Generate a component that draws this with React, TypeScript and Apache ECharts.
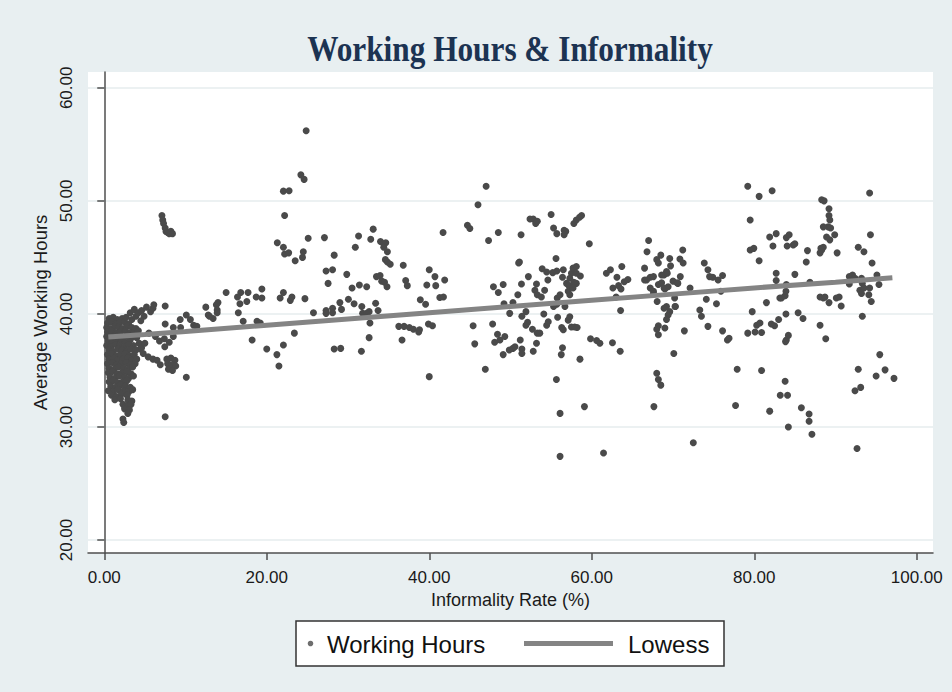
import { useEffect, useRef } from "react";
import * as echarts from "echarts";

// ---------- axis ticks ----------
const xTickValues = [0, 20, 40, 60, 80, 100];
const yTickValues = [20, 30, 40, 50, 60];

// ---------- scatter data: [informality rate %, average working hours] ----------
const lowInformalityBlob: [number, number][] = [
  [0.6, 39.6], [1.1, 39.7], [1.6, 39.5], [2.2, 39.6],
  [0.4, 39.2], [0.9, 39.3], [1.4, 39.1], [1.9, 39.2], [2.5, 39.3], [3.0, 39.1],
  [0.3, 38.8], [0.8, 38.7], [1.3, 38.9], [1.8, 38.8], [2.3, 38.7], [2.8, 38.9], [3.4, 38.8], [3.9, 38.7],
  [0.4, 38.4], [0.9, 38.5], [1.5, 38.3], [2.0, 38.4], [2.6, 38.5], [3.1, 38.3], [3.7, 38.4], [4.2, 38.5],
  [0.3, 38.0], [0.8, 37.9], [1.3, 38.1], [1.9, 38.0], [2.4, 37.9], [2.9, 38.1], [3.5, 38.0], [4.0, 37.9],
  [0.5, 37.6], [1.0, 37.5], [1.5, 37.7], [2.1, 37.6], [2.6, 37.5], [3.2, 37.7], [4.3, 37.4],
  [0.3, 37.2], [0.8, 37.1], [1.4, 37.3], [1.9, 37.2], [2.5, 37.1], [3.0, 37.3], [3.6, 37.2], [4.4, 36.9],
  [0.6, 36.8], [1.1, 36.7], [1.7, 36.9], [2.2, 36.8], [2.8, 36.7], [3.3, 36.9], [3.9, 36.8],
  [0.4, 36.4], [0.9, 36.5], [1.5, 36.3], [2.0, 36.4], [2.6, 36.5], [3.1, 36.3], [3.7, 36.4],
  [0.6, 36.0], [1.2, 36.1], [1.7, 35.9], [2.3, 36.0], [2.9, 36.1], [3.4, 35.9], [4.0, 36.0],
  [0.4, 35.6], [1.0, 35.7], [1.5, 35.5], [2.1, 35.6], [2.7, 35.7], [3.2, 35.5], [3.8, 35.6],
  [0.6, 35.2], [1.2, 35.1], [1.8, 35.3], [2.4, 35.2], [2.9, 35.1], [3.5, 35.3],
  [0.5, 34.8], [1.0, 34.9], [1.6, 34.7], [2.2, 34.8], [2.8, 34.9], [3.3, 34.7],
  [0.7, 34.4], [1.3, 34.3], [1.9, 34.5], [2.5, 34.4], [3.0, 34.3], [3.6, 34.5],
  [0.6, 34.0], [1.1, 34.1], [1.7, 33.9], [2.3, 34.0], [2.8, 34.1],
  [0.8, 33.6], [1.4, 33.5], [2.0, 33.7], [2.6, 33.6], [3.2, 33.5],
  [0.5, 33.2], [1.1, 33.1], [1.7, 33.3], [2.4, 33.2], [3.0, 33.1], [3.5, 33.3],
  [0.9, 32.8], [1.5, 32.7], [2.1, 32.9], [2.8, 32.8],
  [1.3, 32.4], [2.0, 32.5], [2.9, 32.4], [3.4, 32.3],
  [2.3, 32.0], [2.8, 31.9], [3.3, 32.0],
  [2.5, 31.6], [3.1, 31.5], [2.9, 31.2], [2.3, 30.7], [2.4, 30.4],
];

const lowInformalityEdge: [number, number][] = [
  [2.7, 39.7], [3.4, 39.5], [3.9, 39.8], [3.2, 40.1], [3.7, 40.4], [4.2, 40.1], [4.6, 40.3],
  [4.9, 39.8], [5.2, 40.6], [5.7, 40.2], [6.0, 40.5], [6.1, 40.8], [4.5, 39.4],
  [4.6, 37.0], [5.0, 37.4], [4.8, 36.5], [5.4, 36.2], [6.0, 36.0], [6.5, 35.9], [6.9, 35.5],
  [5.5, 38.3], [6.3, 38.0], [6.8, 37.6], [7.4, 37.8], [8.0, 37.5], [8.5, 38.0], [7.45, 37.1],
  [7.5, 39.1], [8.5, 38.8], [9.4, 38.8], [7.5, 40.7], [7.5, 30.9], [10.1, 34.4],
  [7.7, 36.0], [8.2, 36.1], [8.7, 35.9], [7.8, 35.6], [8.3, 35.5], [8.8, 35.4], [7.9, 35.1], [8.4, 35.0],
  [7.1, 48.7], [7.2, 48.3], [7.3, 48.0], [7.5, 47.6], [7.6, 47.3], [7.8, 47.2], [8.0, 47.1], [8.2, 47.3], [8.4, 47.1],
];

const midLowInformality: [number, number][] = [
  [10.1, 39.9], [10.6, 39.5], [11.0, 39.0], [11.4, 38.9], [9.35, 39.5], [12.5, 40.6], [12.8, 39.9],
  [13.4, 39.6], [13.8, 40.8], [14.0, 41.0], [13.9, 40.35], [13.9, 40.1], [12.95, 39.8],
  [15.0, 41.9], [16.8, 41.9], [17.7, 41.9], [19.4, 42.2], [18.7, 41.5], [16.4, 41.5], [16.7, 40.9],
  [17.55, 41.1], [19.4, 41.4], [16.5, 40.1], [17.1, 39.35], [18.8, 39.35], [19.2, 39.2], [18.2, 37.7],
  [20.0, 36.9], [21.25, 36.4], [21.5, 35.4], [22.05, 37.25], [23.4, 38.3],
  [21.65, 41.4], [22.05, 41.9], [23.1, 41.5], [22.9, 41.2], [24.7, 41.35], [25.75, 40.1],
  [21.3, 46.3], [22.05, 45.9], [22.2, 45.3], [22.7, 45.4], [23.5, 44.7], [24.5, 45.5], [24.4, 45.0],
  [22.2, 48.7], [22.05, 50.86], [22.75, 50.9], [24.2, 52.3], [24.6, 51.9], [24.85, 56.2], [25.1, 46.7],
  [27.1, 46.75], [28.3, 45.2], [27.3, 43.8], [28.1, 43.9], [27.55, 42.7], [29.85, 43.5], [30.9, 45.9],
  [31.3, 46.9], [32.8, 46.6], [33.1, 47.5], [34.0, 46.4], [34.4, 46.2], [34.65, 46.3], [34.4, 45.9],
  [34.85, 45.5], [34.6, 44.8], [34.85, 44.6], [35.2, 44.4], [33.5, 43.3], [33.95, 43.4], [34.15, 42.9],
  [34.5, 42.8], [34.8, 42.4], [36.8, 44.3], [37.1, 42.95], [37.3, 42.5], [30.5, 42.3], [31.4, 42.55], [32.3, 42.4],
  [27.3, 40.3], [27.3, 40.05], [28.1, 40.5], [28.1, 40.1], [29.2, 40.4], [29.0, 41.0], [30.05, 41.3],
  [30.75, 40.9], [31.7, 40.65], [31.8, 40.05], [32.3, 40.05], [32.6, 40.2], [33.4, 40.95], [33.7, 40.3],
  [32.7, 39.2], [36.25, 38.9], [36.9, 38.9], [37.55, 38.8], [38.05, 38.65], [38.7, 38.4], [38.8, 38.6],
  [28.3, 36.9], [29.1, 36.95], [31.65, 36.7], [32.6, 37.9], [36.65, 37.7],
];

const midHighInformality: [number, number][] = [
  [40.0, 43.9], [40.7, 43.3], [39.7, 42.55], [40.8, 42.5], [41.9, 43.0], [41.7, 47.2], [44.7, 47.85],
  [45.0, 47.55], [46.0, 49.65], [47.0, 51.3], [47.3, 46.5], [48.5, 47.2], [51.3, 47.0],
  [41.3, 41.45], [41.75, 41.5], [38.9, 41.25], [39.55, 40.85], [39.9, 39.1], [40.4, 38.95], [40.0, 34.45],
  [45.4, 38.95], [45.6, 37.35], [46.9, 35.1],
  [47.9, 42.4], [49.1, 42.6], [48.5, 41.9], [47.8, 39.1], [48.4, 38.2], [48.05, 37.5], [48.7, 37.7],
  [49.3, 38.0], [49.1, 36.4], [49.2, 40.9], [49.9, 40.05], [50.3, 41.0],
  [49.85, 36.8], [50.3, 36.95], [50.55, 37.1], [51.2, 37.7], [51.4, 36.9], [51.4, 36.5], [50.9, 41.7],
  [51.35, 42.65], [51.0, 44.5], [51.1, 44.6],
  [52.2, 43.3], [51.9, 40.2], [51.4, 39.8], [52.1, 39.25], [51.9, 39.0], [52.8, 36.7], [52.7, 38.65],
  [53.3, 38.3], [53.6, 38.3], [53.2, 37.4],
  [53.2, 42.65], [53.0, 42.1], [53.3, 41.7], [53.9, 44.0], [54.2, 42.1], [54.1, 40.0], [54.45, 39.0], [54.65, 39.3],
  [53.8, 41.5], [54.45, 43.7], [54.6, 43.0], [55.2, 43.65], [55.6, 44.9], [55.7, 43.8], [55.75, 41.4],
  [56.1, 41.7], [56.4, 43.25], [56.5, 43.9],
  [55.7, 40.85], [55.3, 40.65], [55.8, 39.7], [56.3, 38.8], [56.5, 38.6], [57.1, 39.45], [57.3, 39.75],
  [57.5, 38.85], [57.9, 38.85], [58.2, 38.8], [56.4, 37.0], [56.25, 36.4], [55.65, 34.2], [56.1, 31.2], [56.1, 27.4],
  [56.9, 42.7], [57.3, 43.15], [57.5, 43.6], [57.7, 44.05], [58.1, 44.2], [58.6, 43.35], [58.1, 42.7],
  [57.2, 42.5], [57.8, 42.8], [57.1, 42.0], [57.7, 42.3], [57.3, 41.7], [58.1, 43.6], [56.7, 40.65],
  [52.4, 48.4], [52.8, 48.4], [53.1, 48.0], [53.3, 48.2], [55.0, 48.8], [55.3, 47.6], [55.7, 47.1],
  [56.6, 47.4], [56.8, 47.3], [56.6, 47.0], [57.8, 48.0], [58.1, 48.3], [58.5, 48.55], [58.75, 48.7], [59.7, 46.2],
  [58.55, 36.0], [59.1, 31.8], [61.45, 27.7], [59.85, 37.8], [60.6, 37.65], [61.0, 37.4], [62.55, 37.45], [63.5, 36.7],
  [61.8, 43.6], [62.3, 43.9], [63.1, 43.25], [63.7, 44.2], [62.6, 42.3], [63.3, 42.5], [63.6, 42.2],
  [64.0, 42.85], [64.45, 43.05], [63.0, 41.5], [63.55, 40.3],
];

const highInformality: [number, number][] = [
  [67.0, 46.5], [66.8, 45.5], [68.0, 44.8], [68.2, 44.5], [68.5, 45.2], [69.6, 44.9], [66.5, 44.05],
  [67.2, 43.25], [66.75, 43.0], [67.6, 43.3], [68.6, 43.45], [69.2, 43.75],
  [67.2, 42.3], [67.6, 42.0], [68.2, 42.6], [68.6, 42.75], [69.0, 42.2], [69.4, 42.4], [70.0, 42.9],
  [70.5, 42.75], [70.9, 43.3], [68.05, 41.1], [69.2, 40.65], [69.6, 40.2], [69.4, 39.9], [70.25, 40.65],
  [69.2, 39.5], [69.0, 38.75], [68.2, 38.95], [68.0, 38.65], [68.2, 38.15], [70.1, 36.5], [68.0, 34.75],
  [68.2, 34.2], [68.5, 33.7], [67.65, 31.8],
  [66.5, 43.0], [68.9, 43.45], [69.3, 43.6], [69.7, 44.25], [70.85, 44.85], [71.2, 45.65], [71.25, 44.5],
  [70.6, 42.7], [70.2, 41.4], [70.3, 40.65], [68.9, 40.5], [68.9, 42.3], [67.6, 41.8], [71.4, 38.5],
  [72.1, 42.3], [72.5, 28.6],
  [73.85, 44.5], [74.3, 43.9], [74.5, 43.3], [74.9, 43.25], [75.55, 43.0], [76.1, 43.4], [74.1, 41.3],
  [73.3, 40.35], [73.5, 39.8], [74.3, 38.9], [75.35, 40.9], [76.1, 38.5], [76.7, 37.7], [76.9, 37.85],
  [75.9, 42.0], [77.9, 35.1], [77.7, 31.9],
  [79.2, 51.3], [80.6, 50.4], [82.2, 50.9], [79.5, 48.3], [79.5, 45.65], [79.95, 45.8], [80.6, 44.7],
  [81.9, 46.8], [82.7, 47.1], [82.3, 46.0], [83.95, 46.75], [84.3, 47.0], [84.05, 46.0], [84.8, 46.1], [85.0, 46.2],
  [82.7, 43.6], [82.7, 42.95], [85.0, 43.5], [83.15, 41.4], [83.35, 41.4], [83.8, 41.6], [83.9, 42.0],
  [83.95, 42.6], [81.5, 41.0], [79.75, 40.2], [80.3, 39.0], [80.7, 39.2], [79.2, 38.3], [80.1, 38.4], [80.9, 38.35],
  [82.1, 39.1], [82.5, 38.95], [83.0, 39.5], [83.9, 40.0], [85.4, 40.1], [86.0, 39.6], [83.95, 37.7],
  [84.2, 38.1], [83.85, 37.55], [80.9, 35.0], [81.9, 31.4], [83.8, 34.05], [83.2, 32.8], [84.1, 32.8],
  [84.2, 30.0], [85.8, 31.7], [86.75, 31.15], [86.75, 30.5], [87.1, 29.35],
  [86.4, 44.6], [86.55, 45.6], [88.3, 50.1], [88.6, 50.0], [89.2, 49.3], [89.2, 48.7], [89.3, 48.3],
  [89.1, 47.7], [89.4, 47.6], [88.5, 47.7], [89.9, 47.0], [89.3, 46.55], [88.9, 46.8], [88.2, 45.8],
  [88.5, 45.9], [88.1, 45.4], [88.3, 45.65], [90.2, 45.4],
  [88.1, 41.5], [88.5, 41.4], [88.7, 41.5], [89.2, 41.0], [90.1, 41.4], [90.45, 41.5], [90.7, 40.7],
  [88.1, 39.0], [88.8, 37.8], [86.85, 42.8],
  [94.2, 50.7], [94.3, 47.0], [92.8, 45.9], [93.5, 45.5], [94.5, 44.5], [91.7, 43.3], [92.1, 43.45],
  [91.7, 42.65], [92.4, 43.15], [93.2, 43.15], [93.3, 42.7], [93.0, 42.1], [93.5, 42.3], [93.2, 41.8],
  [94.2, 42.3], [94.1, 41.7], [94.4, 41.1], [95.1, 43.45], [95.35, 42.6], [93.3, 39.8],
  [95.45, 36.4], [96.1, 35.05], [95.0, 34.5], [97.2, 34.3], [92.8, 35.1], [93.1, 33.5], [92.4, 33.2], [92.65, 28.1],
];

// ---------- lowess fit ----------
const lowessX = [0.5, 5, 10, 20, 30, 40, 50, 60, 70, 80, 90, 97];
const lowessY = [37.95, 38.18, 38.45, 39.0, 39.55, 40.1, 40.65, 41.2, 41.75, 42.3, 42.8, 43.2];

const SANS = '"Liberation Sans", Arial, Helvetica, sans-serif';
const SERIF = '"Liberation Serif", "Times New Roman", serif';

export default function App() {
  const ref = useRef<HTMLDivElement>(null);

  useEffect(() => {
    if (!ref.current) return;
    const chart = echarts.init(ref.current, null, { renderer: "svg" });

    const scatterData = [
      ...lowInformalityBlob,
      ...lowInformalityEdge,
      ...midLowInformality,
      ...midHighInformality,
      ...highInformality,
    ];
    const lowessData = lowessX.map((x, i) => [x, lowessY[i]]);
    const fmt = (v: number) => Number(v).toFixed(2);

    chart.setOption({
      animation: false,
      backgroundColor: "#e8eff1",
      grid: {
        left: 88,
        right: 19,
        top: 72,
        bottom: 139,
        show: true,
        backgroundColor: "#ffffff",
        borderWidth: 0,
      },
      xAxis: {
        type: "value",
        min: -2,
        max: 102,
        name: "Informality Rate (%)",
        nameLocation: "middle",
        nameGap: 36,
        nameTextStyle: { fontSize: 18, color: "#1a1a1a", fontFamily: SANS },
        axisLine: { show: true, lineStyle: { color: "#4f4f4f", width: 1.5 } },
        axisTick: {
          show: true,
          length: 7,
          customValues: xTickValues,
          lineStyle: { color: "#4f4f4f", width: 1.5 },
        },
        axisLabel: {
          customValues: xTickValues,
          formatter: fmt,
          fontSize: 17,
          color: "#1a1a1a",
          fontFamily: SANS,
          margin: 16,
        },
        splitLine: { show: false },
      },
      yAxis: {
        type: "value",
        min: 18.85,
        max: 61.4,
        name: "Average Working Hours",
        nameLocation: "middle",
        nameGap: 32,
        nameTextStyle: { fontSize: 18.5, color: "#1a1a1a", fontFamily: SANS },
        axisLine: { show: true, lineStyle: { color: "#4f4f4f", width: 1.5 } },
        axisTick: {
          show: true,
          length: 7,
          customValues: yTickValues,
          lineStyle: { color: "#4f4f4f", width: 1.5 },
        },
        axisLabel: {
          customValues: yTickValues,
          formatter: fmt,
          rotate: 90,
          fontSize: 17,
          color: "#1a1a1a",
          fontFamily: SANS,
          margin: 13,
        },
        splitLine: { show: true, lineStyle: { color: "#e6ecee", width: 1.5 } },
      },
      series: [
        {
          name: "Working Hours",
          type: "scatter",
          data: scatterData,
          symbol: "circle",
          symbolSize: 7,
          itemStyle: { color: "#4a4a4a", opacity: 1 },
          z: 2,
        },
        {
          name: "Lowess",
          type: "line",
          data: lowessData,
          showSymbol: false,
          symbol: "none",
          smooth: false,
          lineStyle: { color: "#848484", width: 5 },
          z: 3,
        },
      ],
      graphic: [
        {
          type: "text",
          x: 510,
          y: 49,
          scaleX: 0.92,
          scaleY: 1.04,
          style: {
            text: "Working Hours & Informality",
            fill: "#1c3352",
            font: `bold 34px ${SERIF}`,
            textAlign: "center",
            textVerticalAlign: "middle",
          },
        },
        {
          type: "group",
          children: [
            {
              type: "rect",
              shape: { x: 296, y: 621, width: 428, height: 45 },
              style: { fill: "#ffffff", stroke: "#333333", lineWidth: 1.5 },
            },
            {
              type: "circle",
              shape: { cx: 310.5, cy: 643.5, r: 2.8 },
              style: { fill: "#6e6e6e" },
            },
            {
              type: "text",
              x: 327,
              y: 644,
              style: {
                text: "Working Hours",
                fill: "#111111",
                font: `24px ${SANS}`,
                textAlign: "left",
                textVerticalAlign: "middle",
              },
            },
            {
              type: "line",
              shape: { x1: 524, y1: 643.5, x2: 613, y2: 643.5 },
              style: { stroke: "#848484", lineWidth: 5 },
            },
            {
              type: "text",
              x: 628,
              y: 644,
              style: {
                text: "Lowess",
                fill: "#111111",
                font: `24px ${SANS}`,
                textAlign: "left",
                textVerticalAlign: "middle",
              },
            },
          ],
        },
      ],
    });

    return () => chart.dispose();
  }, []);

  return (
    <div
      ref={ref}
      style={{ position: "fixed", left: 0, top: 0, width: 952, height: 692 }}
    />
  );
}
